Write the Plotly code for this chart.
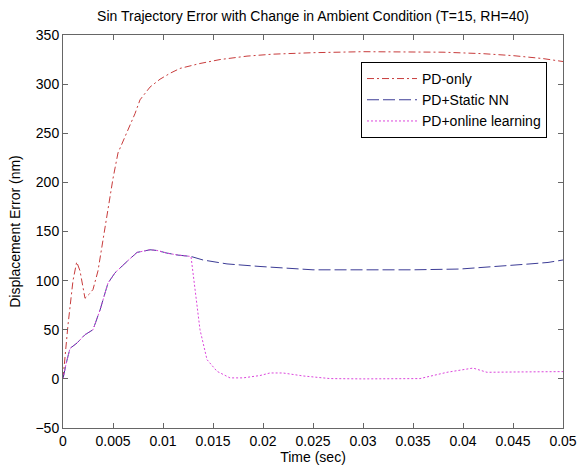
import plotly.graph_objects as go

# ---- data ----
t_pd = [0, 0.0005, 0.001, 0.00137, 0.0017, 0.0022, 0.0026, 0.003, 0.0035, 0.0039,
        0.0045, 0.005, 0.0055, 0.0061, 0.0067, 0.0072, 0.0077, 0.0087, 0.0097, 0.0107,
        0.0117, 0.0137, 0.0157, 0.0184, 0.021, 0.025, 0.03, 0.035, 0.038, 0.042,
        0.045, 0.048, 0.05]
err_pd = [0, 55, 100, 119, 110, 82, 86, 91, 110, 136,
          175, 204, 230, 244, 257, 270, 284, 297, 305, 311,
          316, 321, 325, 328.5, 330.5, 332, 333, 333, 332.5, 331,
          329, 326, 323]

t_static = [0, 0.0003, 0.0007, 0.0014, 0.0022, 0.003, 0.0037, 0.0045, 0.0052, 0.0058,
            0.0064, 0.0074, 0.0081, 0.0087, 0.0094, 0.0104, 0.0115, 0.0128, 0.014, 0.0164,
            0.0197, 0.022, 0.025, 0.03, 0.035, 0.0397, 0.0424, 0.045, 0.0467, 0.0485, 0.05]
err_static = [0, 15, 31, 36.5, 45, 50, 70, 97.5, 108, 114,
              119.5, 128.7, 130.5, 131.4, 130.7, 128, 126, 124.6, 121, 117,
              114.4, 112.8, 111, 111, 111, 111.8, 113.8, 115, 117, 118.5, 121]

t_online = [0, 0.0003, 0.0007, 0.0014, 0.0022, 0.003, 0.0037, 0.0045, 0.0052, 0.0058,
            0.0064, 0.0074, 0.0081, 0.0087, 0.0094, 0.0104, 0.0115, 0.0128, 0.013, 0.0134,
            0.0137, 0.0144, 0.0154, 0.0167, 0.018, 0.0197, 0.0207, 0.022, 0.024, 0.0267,
            0.03, 0.0357, 0.0384, 0.041, 0.0424, 0.045, 0.0497, 0.05]
err_online = [0, 15, 31, 36.5, 45, 50, 70, 97.5, 108, 114,
              119.5, 128.7, 130.5, 131.4, 130.7, 128, 126, 124.6, 108, 74,
              50, 19.6, 7.7, 1, 1, 3.4, 6, 6, 3, 0.3,
              0, 0.3, 6.7, 11, 6.7, 7, 7.4, 7.4]

x_tickvals = [0, 0.005, 0.01, 0.015, 0.02, 0.025, 0.03, 0.035, 0.04, 0.045, 0.05]
x_ticktext = ["0", "0.005", "0.01", "0.015", "0.02", "0.025", "0.03", "0.035", "0.04", "0.045", "0.05"]
y_tickvals = [-50, 0, 50, 100, 150, 200, 250, 300, 350]

FONT = "Liberation Sans, Arial, sans-serif"

fig = go.Figure()
fig.add_trace(go.Scatter(x=t_pd, y=err_pd, mode="lines", name="PD-only",
                         line=dict(color="rgb(200,60,60)", width=1, dash="7px,3px,2px,3px")))
fig.add_trace(go.Scatter(x=t_static, y=err_static, mode="lines", name="PD+Static NN",
                         line=dict(color="rgb(60,60,150)", width=1, dash="12px,4px")))
fig.add_trace(go.Scatter(x=t_online, y=err_online, mode="lines", name="PD+online learning",
                         line=dict(color="rgb(220,70,220)", width=1, dash="2px,2px")))

axis_common = dict(showline=True, mirror="ticks", linecolor="#666", linewidth=1,
                   ticks="inside", ticklen=5, tickcolor="#666", showgrid=False,
                   zeroline=False, automargin=False,
                   tickfont=dict(family=FONT, size=14, color="black"))

fig.update_layout(
    width=579, height=466,
    margin=dict(l=63, r=16, t=35, b=38),
    paper_bgcolor="white", plot_bgcolor="white",
    font=dict(family=FONT, size=14, color="black"),
    title=dict(text="Sin Trajectory Error with Change in Ambient Condition (T=15, RH=40)",
               x=0.5, xref="paper", xanchor="center", y=0.966, yanchor="middle",
               automargin=False,
               font=dict(family=FONT, size=14, color="black")),
    xaxis=dict(range=[0, 0.05], tickvals=x_tickvals, ticktext=x_ticktext,
               title=dict(text="Time (sec)", standoff=2, font=dict(family=FONT, size=14)),
               **axis_common),
    yaxis=dict(range=[-50, 350], tickvals=y_tickvals,
               title=dict(text="Displacement Error (nm)", standoff=11, font=dict(family=FONT, size=14)),
               **axis_common),
    legend=dict(x=0.596, y=0.9314, xanchor="left", yanchor="top",
                bordercolor="black", borderwidth=1, bgcolor="white",
                font=dict(family=FONT, size=14, color="black"),
                itemwidth=50, tracegroupgap=0),
    showlegend=True,
)

# remove the browser's default 8px body margin so the figure sits at the window origin
fig.write_html("out.html", config={"displayModeBar": False},
               post_script="document.body.style.margin='0';")
